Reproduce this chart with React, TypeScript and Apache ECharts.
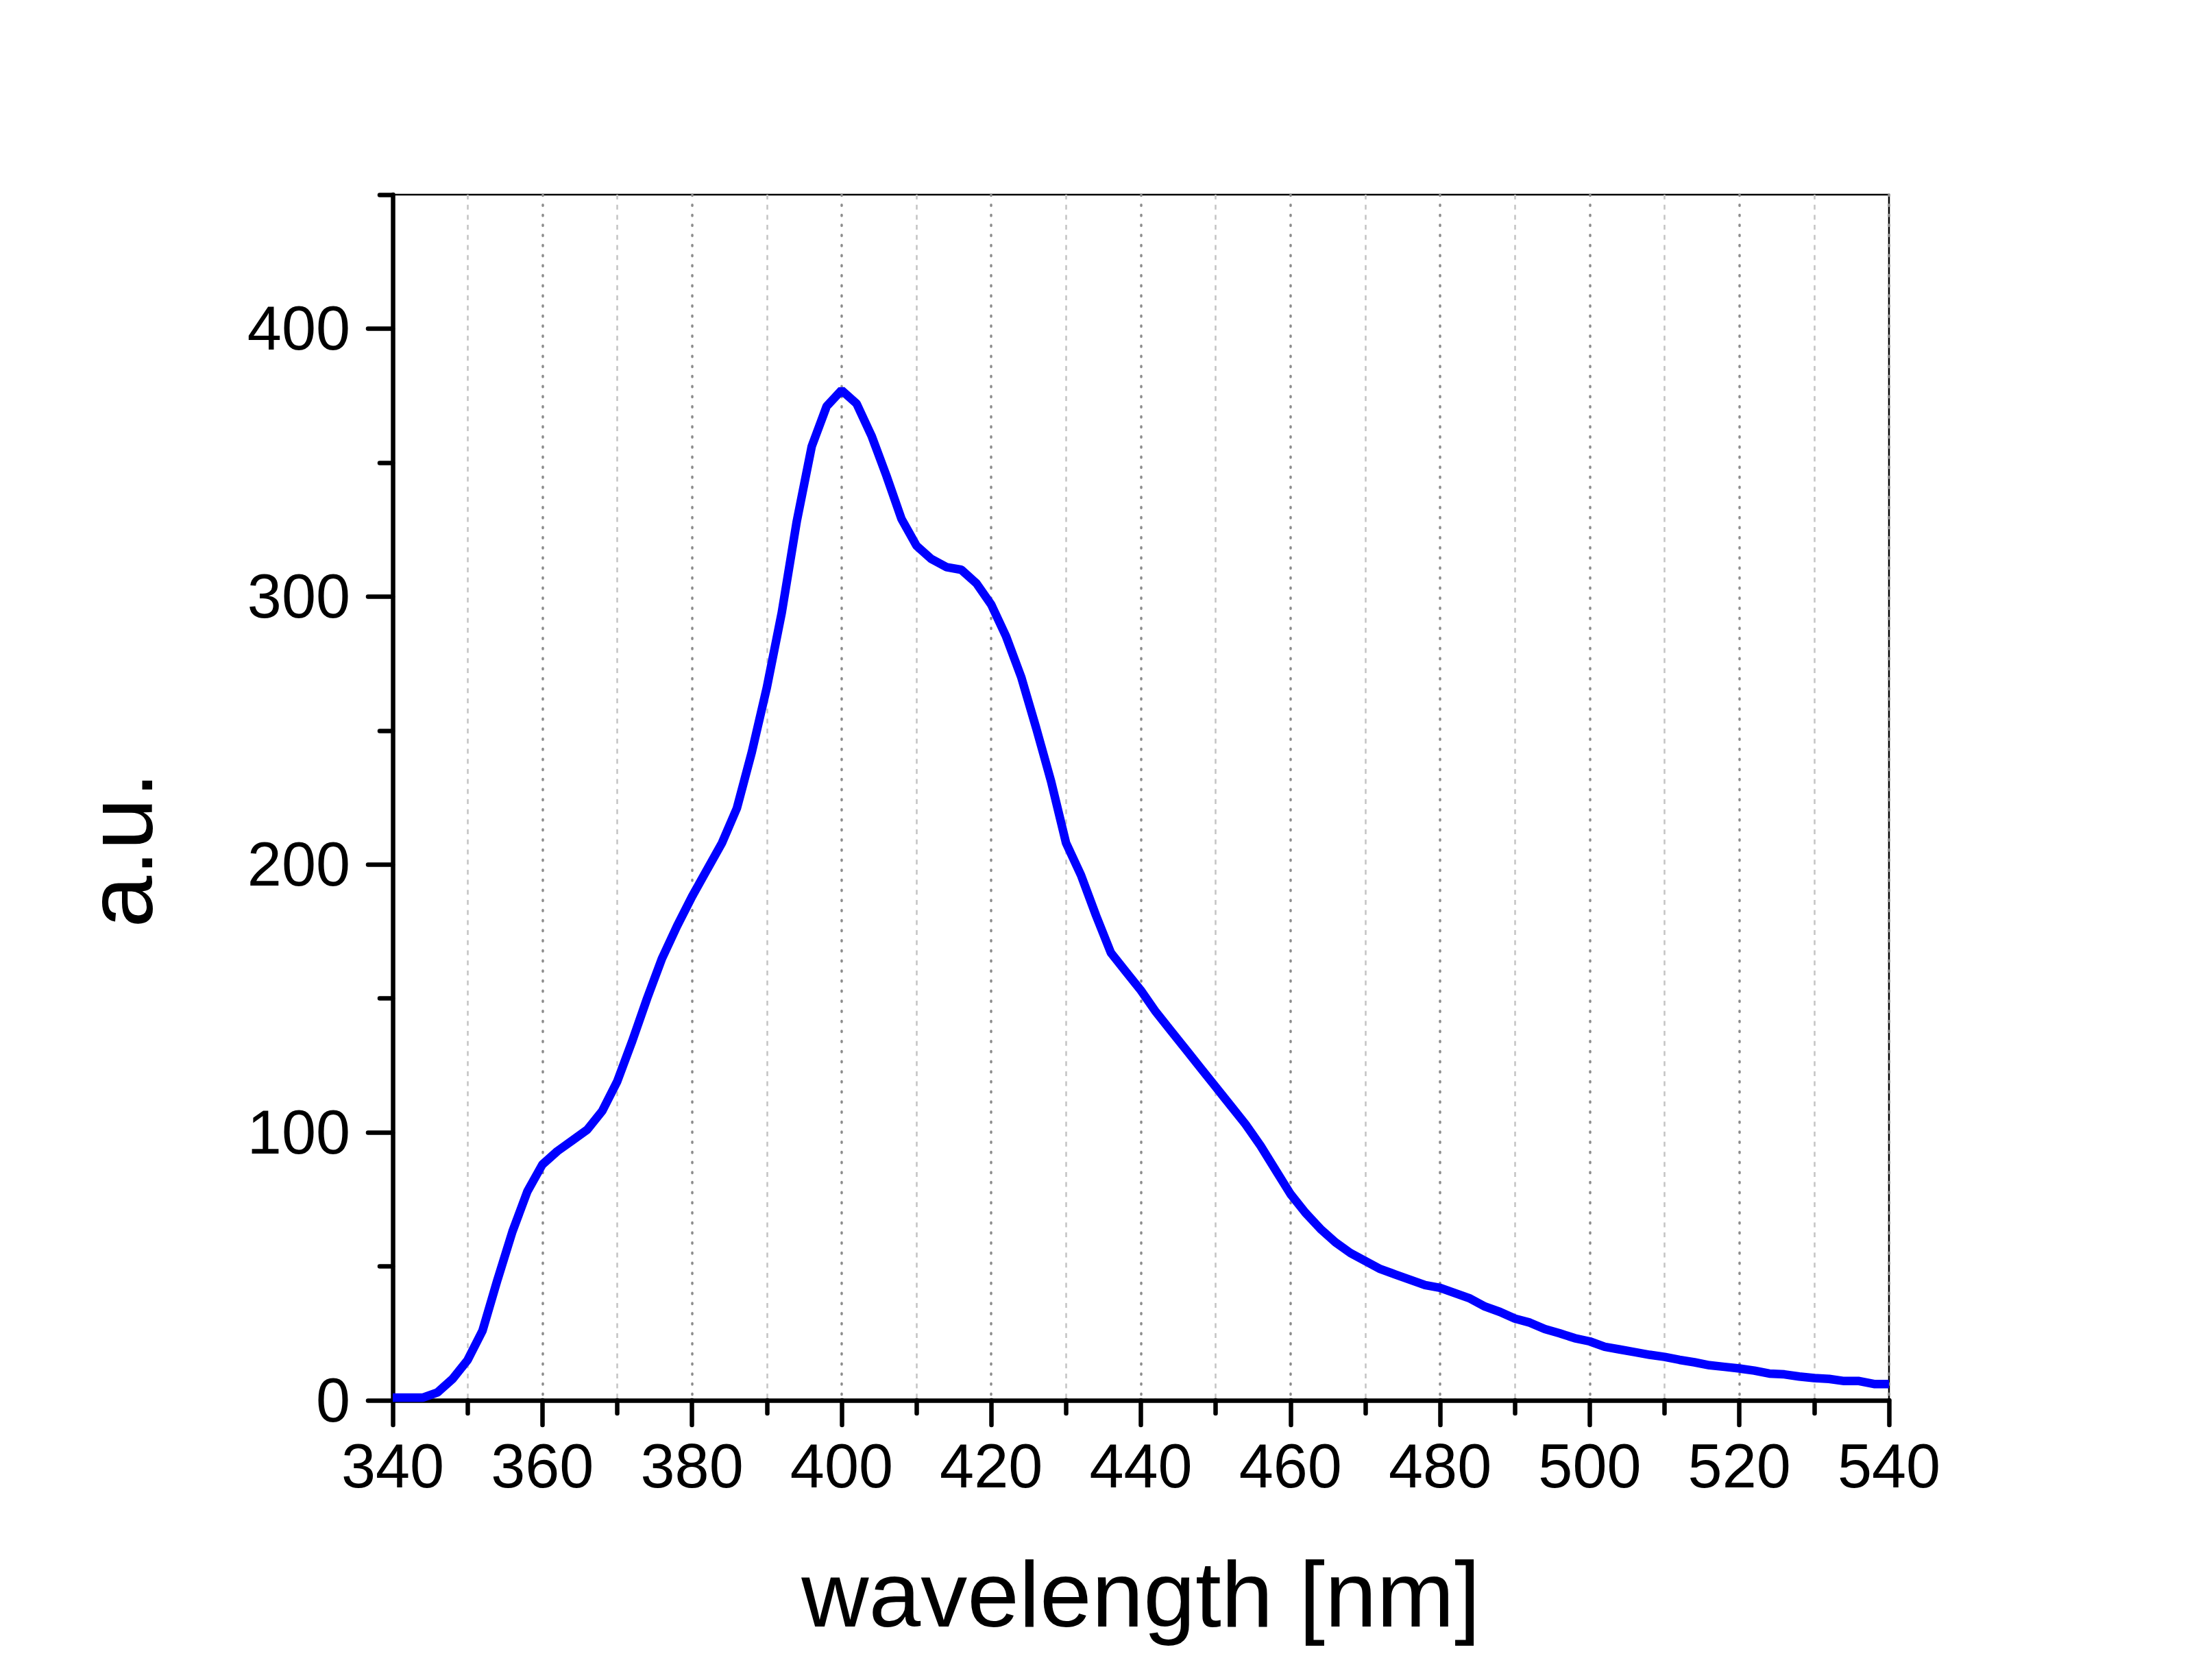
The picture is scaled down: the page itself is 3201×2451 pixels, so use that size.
import React, { useEffect, useRef } from "react";
import * as echarts from "echarts";

const wavelengths = [
  340, 342, 344, 346, 348, 350, 352, 354, 356, 358,
  360, 362, 364, 366, 368, 370, 372, 374, 376, 378,
  380, 382, 384, 386, 388, 390, 392, 394, 396, 398,
  400, 402, 404, 406, 408, 410, 412, 414, 416, 418,
  420, 422, 424, 426, 428, 430, 432, 434, 436, 438,
  440, 442, 444, 446, 448, 450, 452, 454, 456, 458,
  460, 462, 464, 466, 468, 470, 472, 474, 476, 478,
  480, 482, 484, 486, 488, 490, 492, 494, 496, 498,
  500, 502, 504, 506, 508, 510, 512, 514, 516, 518,
  520, 522, 524, 526, 528, 530, 532, 534, 536, 538,
  540,
];

const intensity = [
  1, 1, 1, 3, 8, 15, 26, 45, 63, 78,
  88, 93, 97, 101, 108, 119, 134, 150, 165, 177,
  188, 198, 208, 221, 242, 266, 294, 328, 356, 371,
  377, 372, 360, 345, 329, 319, 314, 311, 310, 305,
  297, 285, 270, 251, 231, 208, 196, 181, 167, 160,
  153, 145, 138, 131, 124, 117, 110, 103, 95, 86,
  77, 70, 64, 59, 55, 52, 49, 47, 45, 43,
  42, 40, 38, 35, 33, 30.5, 29, 26.6, 25, 23.2,
  22, 20, 19, 18, 17, 16.2, 15.1, 14.2, 13.1, 12.5,
  11.9, 11.1, 10, 9.7, 8.9, 8.3, 8, 7.2, 7.2, 6.1,
  6.1,
];

const yMajorTicks = [0, 100, 200, 300, 400];
const yMinorTicks = [50, 150, 250, 350, 450];

const FONT = "'Liberation Sans', Arial, Helvetica, sans-serif";

export default function App() {
  const ref = useRef<HTMLDivElement>(null);

  useEffect(() => {
    if (!ref.current) return;
    const chart = echarts.init(ref.current, undefined, { renderer: "svg" });
    const data = wavelengths.map((w, i) => [w, intensity[i]]);

    chart.setOption({
      animation: false,
      backgroundColor: "#ffffff",
      grid: {
        left: 573,
        right: 445,
        top: 284,
        bottom: 408,
        show: true,
        borderColor: "#000000",
        borderWidth: 2.5,
        backgroundColor: "transparent",
      },
      xAxis: {
        type: "value",
        min: 340,
        max: 540,
        interval: 20,
        position: "bottom",
        axisLine: { show: true, onZero: false, lineStyle: { color: "#000", width: 6.5 } },
        axisTick: { show: true, inside: false, length: 36, lineStyle: { color: "#000", width: 6.5, cap: "round" } },
        minorTick: { show: true, splitNumber: 2, length: 19, lineStyle: { color: "#000", width: 6.5, cap: "round" } },
        axisLabel: { fontSize: 90, color: "#000", margin: 51, fontFamily: FONT },
        splitLine: {
          show: true,
          lineStyle: { color: "#8c8c8c", width: 3.5, type: [1.5, 13.2], cap: "round" },
        },
        minorSplitLine: {
          show: true,
          lineStyle: { color: "#c4c4c4", width: 2.5, type: [7, 7.7] },
        },
        name: "wavelength [nm]",
        nameLocation: "middle",
        nameGap: 215,
        nameTextStyle: { fontSize: 136, color: "#000", fontFamily: FONT },
      },
      yAxis: [
        {
          type: "value",
          min: 0,
          max: 450,
          interval: 100,
          position: "left",
          axisLine: { show: true, onZero: false, lineStyle: { color: "#000", width: 6.5 } },
          axisTick: {
            show: true,
            inside: false,
            length: 36,
            customValues: yMajorTicks,
            lineStyle: { color: "#000", width: 6.5, cap: "round" },
          },
          axisLabel: {
            fontSize: 90,
            color: "#000",
            margin: 62,
            fontFamily: FONT,
            customValues: yMajorTicks,
          },
          splitLine: { show: false },
        },
        {
          type: "value",
          min: 0,
          max: 450,
          interval: 50,
          position: "left",
          axisLine: { show: false },
          axisTick: {
            show: true,
            inside: false,
            length: 19,
            customValues: yMinorTicks,
            lineStyle: { color: "#000", width: 6.5, cap: "round" },
          },
          axisLabel: { show: false },
          splitLine: { show: false },
        },
      ],
      graphic: [
        {
          type: "text",
          x: 175,
          y: 1240,
          rotation: Math.PI / 2,
          style: {
            text: "a.u.",
            fontSize: 136,
            fontFamily: FONT,
            fill: "#000",
            align: "center",
            verticalAlign: "middle",
          },
        },
      ],
      series: [
        {
          type: "line",
          data,
          xAxisIndex: 0,
          yAxisIndex: 0,
          showSymbol: false,
          symbol: "none",
          smooth: false,
          lineStyle: { color: "#0000ff", width: 12.5 },
          z: 5,
        },
      ],
    });

    return () => chart.dispose();
  }, []);

  return (
    <div
      ref={ref}
      style={{ position: "absolute", left: 0, top: 0, width: 3201, height: 2451 }}
    />
  );
}
